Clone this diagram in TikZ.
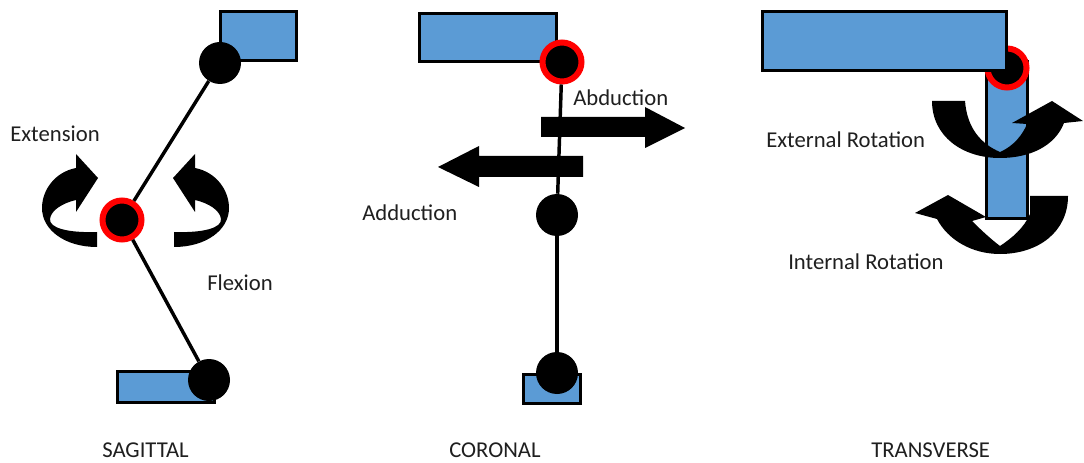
\documentclass[tikz,border=0pt]{standalone}
\usepackage{fontspec}
\setmainfont{Carlito}
\definecolor{boneblue}{RGB}{91,155,213}
\newcommand\lblfont{\fontsize{17}{20}\selectfont}
\begin{document}
\begin{tikzpicture}[x=0.75pt,y=-0.75pt,
  bone/.style={draw=black, fill=boneblue, line width=2.25pt, inner sep=0pt, outer sep=0pt},
  joint/.style={circle, fill=black, inner sep=0pt, minimum size=31.5pt},
  pivot/.style={circle, fill=black, draw=red, line width=4.5pt, inner sep=0pt, minimum size=29.25pt},
  limb/.style={line width=2.6pt},
  turn/.style={fill=black},
  lbl/.style={font=\lblfont, inner sep=0pt, anchor=base west, text=black!88}]
\fill[white] (0,0) rectangle (1084,463);
\useasboundingbox (0,0) rectangle (1084,463);

% ---------- sagittal plane ----------
\node[bone, minimum width=57pt, minimum height=36.75pt] (sagUpper) at (258.5,36) {};
\node[bone, minimum width=72.75pt, minimum height=23.25pt] (sagLower) at (166,387) {};
\node[joint] (sagTop) at (220,63) {};
\node[pivot] (sagMid) at (122,220) {};
\node[joint] (sagBot) at (209,380) {};
\draw[limb] (sagTop) -- (sagMid);
\draw[limb] (sagMid) -- (sagBot);

% extension: curved arrow on the left of the pivot
\fill[turn] (97,247) -- (97,232) .. controls (68,233) and (49,228) .. (50,219)
  .. controls (51,210) and (63,203) .. (76,200) -- (76,212) -- (98,178) -- (76,154) -- (76,168)
  .. controls (55,172) and (42,190) .. (42,208) .. controls (42,230) and (65,247) .. (97,247) -- cycle;
% flexion: the same arrow mirrored to the right
\begin{scope}[shift={(271,0)}, xscale=-1]
\fill[turn] (97,247) -- (97,232) .. controls (68,233) and (49,228) .. (50,219)
  .. controls (51,210) and (63,203) .. (76,200) -- (76,212) -- (98,178) -- (76,154) -- (76,168)
  .. controls (55,172) and (42,190) .. (42,208) .. controls (42,230) and (65,247) .. (97,247) -- cycle;
\end{scope}

\node[lbl] (extLbl) at (10,142) {Extension};
\node[lbl] (flexLbl) at (207,290) {Flexion};
\node[lbl] (sagLbl) at (102,457) {SAGITTAL};

% ---------- coronal plane ----------
\node[bone, minimum width=102.75pt, minimum height=36pt] (corUpper) at (488,37.5) {};
\node[bone, minimum width=42.75pt, minimum height=21.75pt] (corLower) at (552,389) {};
\node[pivot] (corTop) at (562,62) {};
\node[joint] (corMid) at (557,215) {};
\node[joint] (corBot) at (557,373) {};
\draw[limb] (corTop) -- (corMid);
\draw[limb] (corMid) -- (corBot);

% abduction and adduction block arrows
\fill[turn] (541,117) -- (645,117) -- (645,107) -- (685,128) -- (645,148) -- (645,137) -- (541,137) -- cycle;
\fill[turn] (583,156) -- (479,156) -- (479,146) -- (438,167) -- (479,187) -- (479,177) -- (583,177) -- cycle;

\node[lbl] (abdLbl) at (573,106) {Abduction};
\node[lbl] (addLbl) at (362,221) {Adduction};
\node[lbl] (corLbl) at (449,457) {CORONAL};

% ---------- transverse plane ----------
% internal rotation arrow, partly behind the shaft
\fill[turn] (1068,196) .. controls (1068,232) and (1038,254) .. (1000,254)
  .. controls (972,254) and (948,240) .. (937,219) -- (915,213) -- (948,195) -- (986,217) -- (972,221)
  .. controls (982,231) and (992,240) .. (1000,246) .. controls (1012,238) and (1024,228) .. (1030,214)
  -- (1030,196) -- cycle;
\node[bone, minimum width=30.75pt, minimum height=117.75pt] (trShaft) at (1007,140) {};
\node[pivot] (trPivot) at (1007,68) {};
\node[bone, minimum width=183pt, minimum height=44.25pt] (trUpper) at (884.5,41) {};
% external rotation arrow, in front of the shaft
\fill[turn] (932,101) -- (965,101) .. controls (967,128) and (981,144) .. (1000,152)
  .. controls (1014,146) and (1023,134) .. (1027,124) -- (1012,123) -- (1052,101) -- (1083,121) -- (1064,123)
  .. controls (1055,146) and (1030,158) .. (1000,158) .. controls (962,158) and (932,136) .. (932,101) -- cycle;

\node[lbl] (extRotLbl) at (766,148) {External Rotation};
\node[lbl] (intRotLbl) at (788,269) {Internal Rotation};
\node[lbl] (trLbl) at (871,457) {TRANSVERSE};
\end{tikzpicture}
\end{document}
